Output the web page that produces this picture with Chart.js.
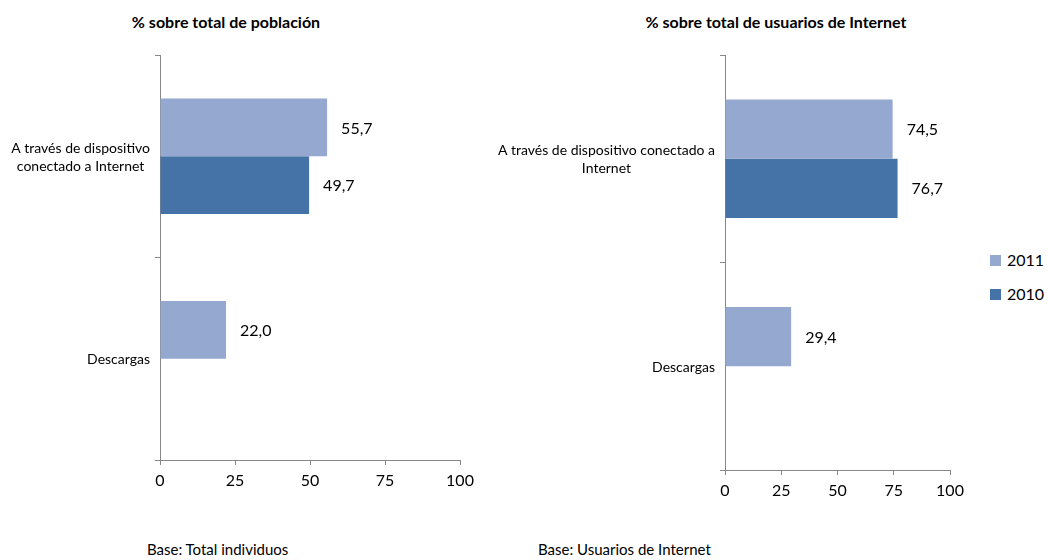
<!DOCTYPE html>
<html>
<head>
<meta charset="utf-8">
<script src="https://cdn.jsdelivr.net/npm/chart.js@4/dist/chart.umd.min.js"></script>
<style>
  html, body { margin: 0; padding: 0; background: #fff; }
  body { width: 1048px; height: 560px; position: relative; overflow: hidden; font-family: Lato, "Open Sans", sans-serif; color: #000; }
  .cw { position: absolute; }
  .title { position: absolute; font-weight: bold; font-size: 16px; white-space: nowrap; transform: translateX(-50%); }
  .foot { position: absolute; font-size: 15px; white-space: nowrap; }
  .legend { position: absolute; left: 990px; top: 250px; font-size: 16px; }
  .legend div { height: 34px; display: flex; align-items: flex-start; }
  .legend span.sw { display: inline-block; width: 11px; height: 11px; margin-right: 6px; margin-top: 5px; }
</style>
</head>
<body>
<div class="title" style="left:226px; top:12px;">% sobre total de población</div>
<div class="title" style="left:776px; top:12px;">% sobre total de usuarios de Internet</div>
<div class="cw" style="left:0px; top:0px; width:480px; height:500px;"><canvas id="c1"></canvas></div>
<div class="cw" style="left:480px; top:0px; width:500px; height:510px;"><canvas id="c2"></canvas></div>
<div class="legend" id="legend"></div>
<div class="foot" style="left:147px; top:540px;">Base: Total individuos</div>
<div class="foot" style="left:538px; top:540px;">Base: Usuarios de Internet</div>
<script>
const categoriesPoblacion = [["A través de dispositivo", "conectado a Internet"], "Descargas"];
const categoriesUsuarios = [["A través de dispositivo conectado a", "Internet"], "Descargas"];
const seriesNames = ["2011", "2010"];
const seriesColors = ["#95A9D0", "#4673A7"];
const poblacion2011 = [55.7, 22.0];
const poblacion2010 = [49.7, null];
const usuarios2011 = [74.5, 29.4];
const usuarios2010 = [76.7, null];
const xTickValues = [0, 25, 50, 75, 100];

const FONT = 'Lato, "Open Sans", sans-serif';
const AXIS_COLOR = '#878787';

const catLabelPlugin = {
  id: 'catLabels',
  afterDraw(chart) {
    const ys = chart.scales.y;
    const ctx = chart.ctx;
    ctx.save();
    ctx.font = '14px ' + FONT;
    ctx.fillStyle = '#000';
    ctx.textAlign = 'center';
    ctx.textBaseline = 'middle';
    const lh = 18;
    chart.data.labels.forEach((lab, i) => {
      const lines = Array.isArray(lab) ? lab : [lab];
      const w = Math.max(...lines.map(l => ctx.measureText(l).width));
      const cx = ys.right - 10 - w / 2;
      const cy = ys.getPixelForValue(i) + 1;
      lines.forEach((l, j) => ctx.fillText(l, cx, cy + (j - (lines.length - 1) / 2) * lh));
    });
    ctx.restore();
  }
};

const valueLabelPlugin = {
  id: 'valueLabels',
  afterDatasetsDraw(chart) {
    const ctx = chart.ctx;
    ctx.save();
    ctx.font = '16px ' + FONT;
    ctx.fillStyle = '#000';
    ctx.textAlign = 'left';
    ctx.textBaseline = 'middle';
    chart.data.datasets.forEach((ds, di) => {
      const meta = chart.getDatasetMeta(di);
      meta.data.forEach((el, i) => {
        const v = ds.data[i];
        if (v === null || v === undefined) return;
        ctx.fillText(v.toFixed(1).replace('.', ','), el.x + 14, el.y + 1);
      });
    });
    ctx.restore();
  }
};

function makeChart(id, labels, d2011, d2010, yWidth, padRight) {
  return new Chart(document.getElementById(id), {
    type: 'bar',
    data: {
      labels: labels,
      datasets: [
        { label: seriesNames[0], data: d2011, backgroundColor: seriesColors[0] },
        { label: seriesNames[1], data: d2010, backgroundColor: seriesColors[1] }
      ]
    },
    options: {
      indexAxis: 'y',
      responsive: true,
      maintainAspectRatio: false,
      animation: false,
      categoryPercentage: 0.57,
      barPercentage: 1.0,
      layout: { padding: { top: 55, right: padRight, left: 0, bottom: 0 } },
      plugins: { legend: { display: false }, tooltip: { enabled: false } },
      scales: {
        x: {
          min: 0, max: 100,
          afterBuildTicks: (s) => { s.ticks = xTickValues.map(v => ({ value: v })); },
          afterFit: (s) => { s.height = 40; },
          grid: { drawOnChartArea: false, drawTicks: true, tickLength: 5, color: AXIS_COLOR },
          border: { display: true, color: AXIS_COLOR, width: 1 },
          ticks: { color: '#000', font: { family: FONT, size: 16 }, padding: 6, maxRotation: 0 }
        },
        y: {
          afterFit: (s) => { s.width = yWidth; },
          grid: { drawOnChartArea: false, drawTicks: true, tickLength: 5, offset: true, color: AXIS_COLOR },
          border: { display: true, color: AXIS_COLOR, width: 1 },
          ticks: { display: false }
        }
      }
    },
    plugins: [catLabelPlugin, valueLabelPlugin]
  });
}

makeChart('c1', categoriesPoblacion, poblacion2011, poblacion2010, 160, 20);
makeChart('c2', categoriesUsuarios, usuarios2011, usuarios2010, 245, 30);

const legend = document.getElementById('legend');
seriesNames.forEach((n, i) => {
  const row = document.createElement('div');
  const sw = document.createElement('span');
  sw.className = 'sw';
  sw.style.background = seriesColors[i];
  row.appendChild(sw);
  row.appendChild(document.createTextNode(n));
  legend.appendChild(row);
});
</script>
</body>
</html>
